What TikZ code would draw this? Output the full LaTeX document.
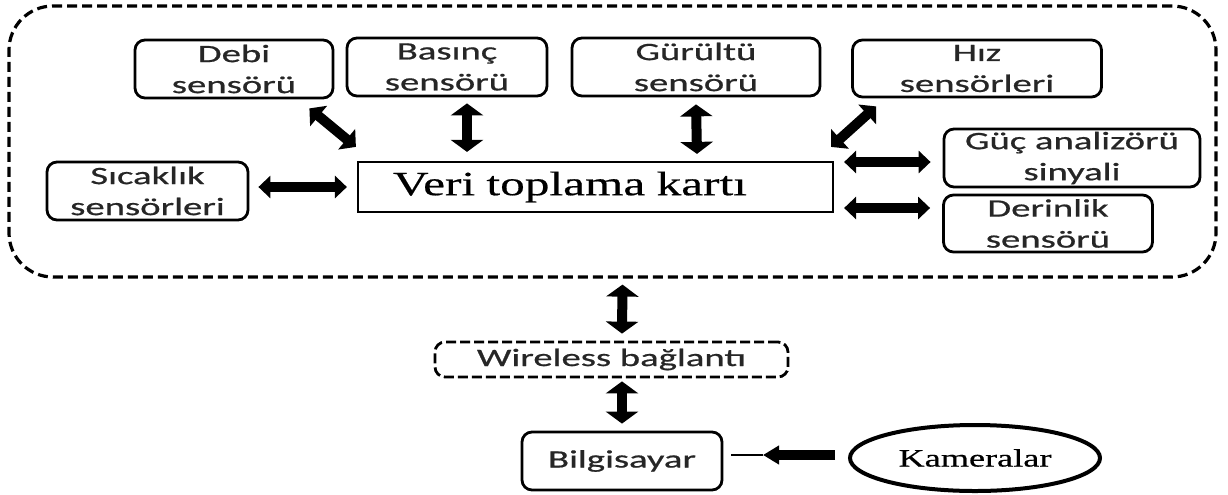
\documentclass[tikz,border=0pt]{standalone}
\usepackage{fontspec}
\newfontfamily\calibrifont{Carlito}[FakeStretch=1.55,FakeBold=0.7]
\newfontfamily\timesfont{Liberation Serif}[FakeStretch=1.45,FakeBold=0.5]
\usetikzlibrary{arrows.meta,shapes.geometric}

\tikzset{
  sensor/.style={draw, line width=1.4pt, rounded corners=5pt, align=center, inner sep=0pt,
    text=black!85, font=\calibrifont\fontsize{12.5}{15.5}\selectfont},
  dblarrow/.style={line width=5pt, {Triangle[width=#1,length=6pt]}-{Triangle[width=#1,length=6pt]}},
  dblarrow/.default=13pt,
}

\begin{document}
\begin{tikzpicture}[x=0.5pt, y=-0.5pt]
    \useasboundingbox (0,0) rectangle (1228,494);

    % Outer frame
    \node[draw, dash pattern=on 5pt off 2.5pt, line width=1.6pt, rounded corners=22pt,
      minimum width=603.5pt, minimum height=135.5pt, inner sep=0pt] (board) at (612.5,141.5) {};

    % Sensors
    \node[sensor, minimum width=99pt, minimum height=29pt] (debi) at (234,69) {Debi\\sensörü};
    \node[sensor, minimum width=100pt, minimum height=29pt] (basinc) at (447,67) {Basınç\\sensörü};
    \node[sensor, minimum width=124pt, minimum height=29pt] (gurultu) at (696,67) {Gürültü\\sensörü};
    \node[sensor, minimum width=124.5pt, minimum height=28.5pt] (hiz) at (977,68.5) {Hız\\sensörleri};
    \node[sensor, minimum width=128pt, minimum height=29pt] (guc) at (1072,158) {Güç analizörü\\sinyali};
    \node[sensor, minimum width=104.5pt, minimum height=28.5pt] (derin) at (1048,223.5) {Derinlik\\sensörü};
    \node[sensor, minimum width=100.5pt, minimum height=29pt] (sicak) at (147.5,191) {Sıcaklık\\sensörleri};

    % Data card
    \node[draw, line width=1.1pt, text width=202.5pt, align=left, inner xsep=17.5pt, inner ysep=0pt,
      minimum height=25pt, font=\timesfont\fontsize{17}{20}\selectfont] (veri) at (595.5,187) {Veri toplama kartı};

    % Lower part
    \node[sensor, dash pattern=on 5pt off 2pt, minimum width=176.5pt, minimum height=17.5pt] (wireless) at (611.5,359.5) {Wireless bağlantı};
    \node[sensor, minimum width=100pt, minimum height=29pt] (pc) at (622,461) {Bilgisayar};
    \node[draw, ellipse, line width=2pt, minimum width=125pt, minimum height=33pt, inner sep=0pt,
      font=\timesfont\fontsize{12.5}{15}\selectfont] (kam) at (975,458) {Kameralar};

    % Sensor links
    \draw[dblarrow] ([xshift=-12.5pt,yshift=-4.5pt]debi.south east) -- ([xshift=-0.5pt,yshift=7pt]veri.north west);
    \draw[dblarrow=16pt] ([xshift=10pt,yshift=-3pt]basinc.south) -- ([xshift=-64.25pt,yshift=4.5pt]veri.north);
    \draw[dblarrow=16pt] ([yshift=-3.5pt]gurultu.south) -- ([xshift=50.75pt,yshift=3.5pt]veri.north);
    \draw[dblarrow] ([xshift=12.5pt,yshift=-4pt]hiz.south west) -- ([xshift=-1.5pt,yshift=7pt]veri.north east);
    \draw[dblarrow=11pt] ([xshift=4.5pt,yshift=2pt]sicak.east) -- ([xshift=-5pt]veri.west);
    \draw[dblarrow=11pt] ([xshift=5pt,yshift=12.5pt]veri.east) -- ([xshift=-6pt,yshift=-2pt]guc.west);
    \draw[dblarrow=11pt] ([xshift=5pt,yshift=-10.5pt]veri.east) -- ([xshift=-6pt,yshift=7.75pt]derin.west);

    % Transfer
    \draw[dblarrow=16pt] ([xshift=5pt,yshift=-3pt]board.south) -- ([xshift=5.25pt,yshift=3.5pt]wireless.north);
    \draw[dblarrow=16pt] ([xshift=5.25pt,yshift=-1.5pt]wireless.south) -- ([yshift=3.5pt]pc.north);

    % Camera input
    \coordinate (camtip) at (763,455);
    \draw[line width=5pt, -{Triangle[width=9pt,length=8pt]}] ([xshift=-6.5pt,yshift=1.5pt]kam.west) -- (camtip);
    \draw[line width=1.2pt] (camtip) -- ([xshift=4pt,yshift=3pt]pc.east);
\end{tikzpicture}
\end{document}
